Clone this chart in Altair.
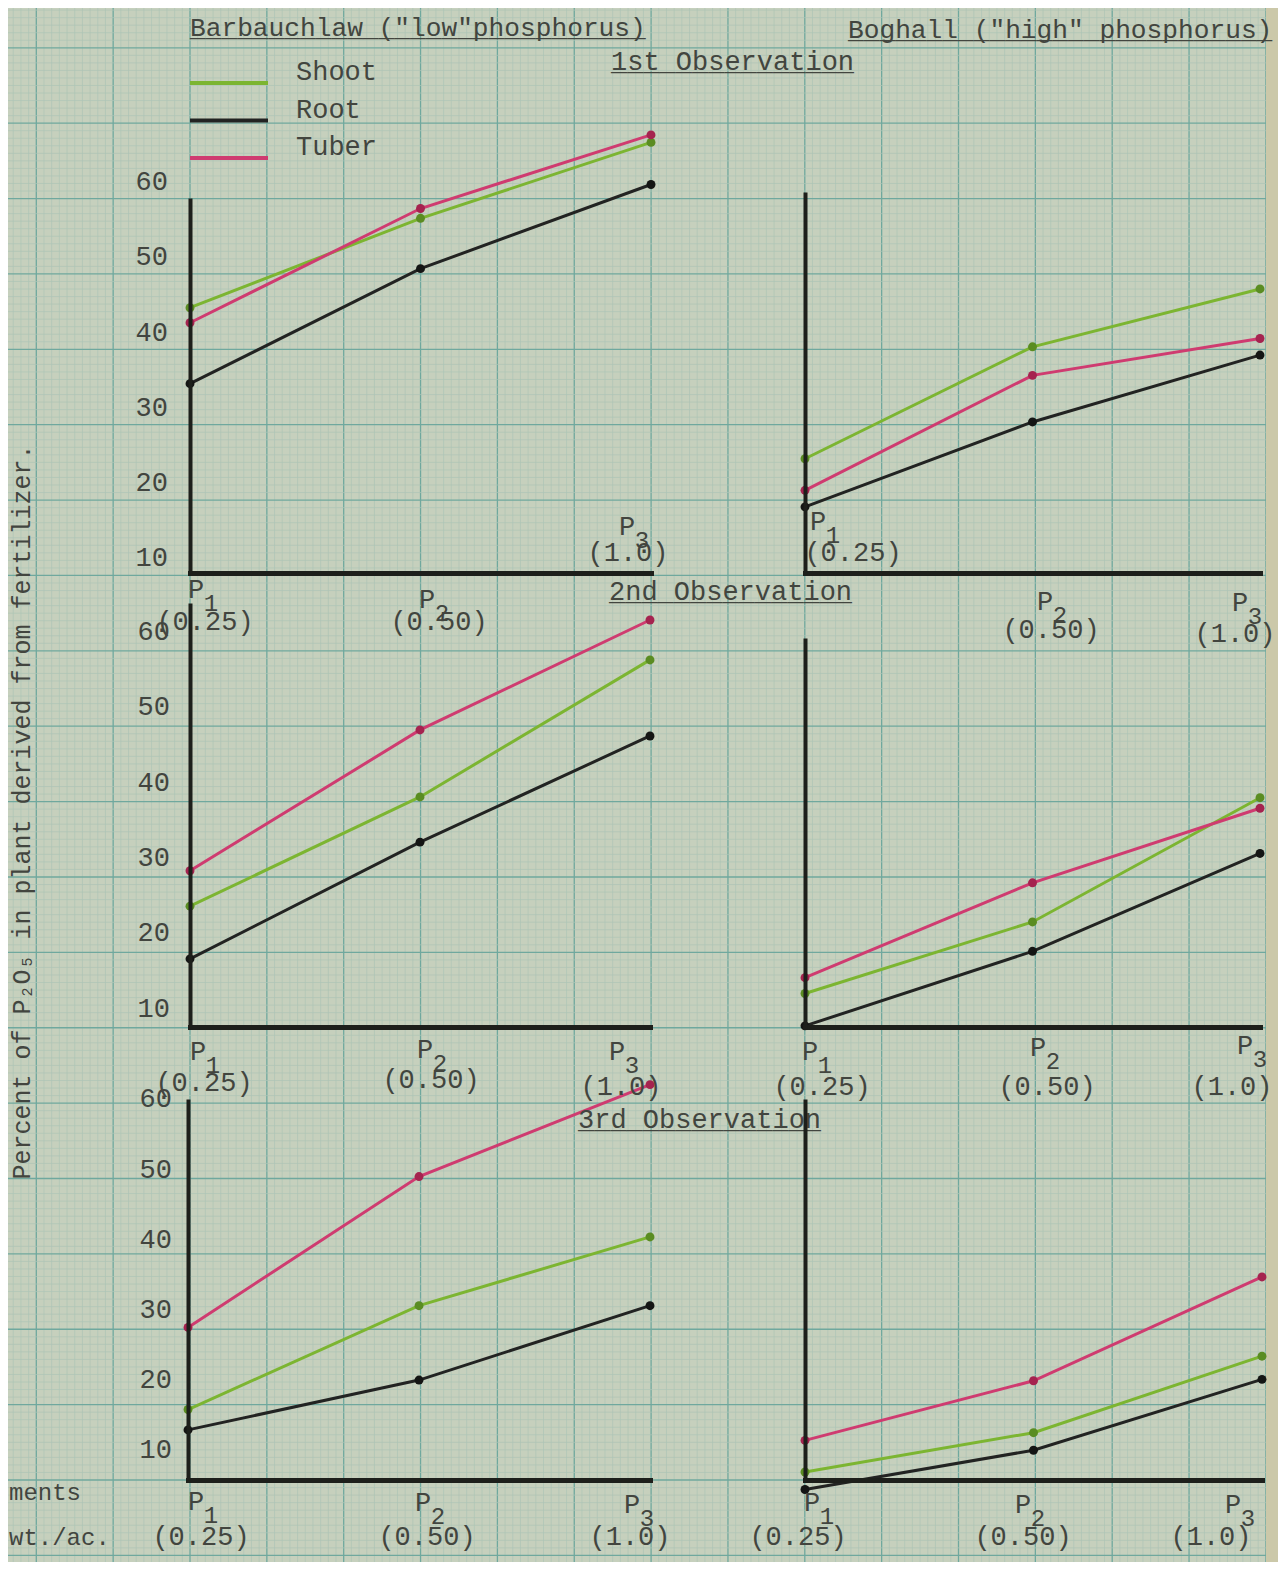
import altair as alt
import pandas as pd

# ---------------- data ----------------
levels = ["P1", "P2", "P3"]
level_digits = ["1", "2", "3"]
rates = ["(0.25)", "(0.50)", "(1.0)"]
parts = ["Shoot", "Root", "Tuber"]
site_titles = ['Barbauchlaw ("low"phosphorus)', 'Boghall ("high" phosphorus)']
observations = ["1st Observation", "2nd Observation", "3rd Observation"]
y_ticks = [10, 20, 30, 40, 50, 60]
y_title = "Percent of P\u2082O\u2085 in plant derived from fertilizer."
corner_texts = ["ments", "wt./ac."]

# Barbauchlaw (left column) / Boghall (right column), per observation
barb1_shoot = [43.3, 55.2, 65.3]
barb1_root = [33.2, 48.5, 59.7]
barb1_tuber = [41.3, 56.5, 66.3]
bog1_shoot = [23.2, 38.1, 45.8]
bog1_root = [16.8, 28.1, 37.0]
bog1_tuber = [19.0, 34.3, 39.2]

barb2_shoot = [23.6, 38.1, 56.3]
barb2_root = [16.6, 32.1, 46.2]
barb2_tuber = [28.3, 47.0, 61.6]
bog2_shoot = [12.0, 21.5, 38.0]
bog2_root = [7.7, 17.6, 30.6]
bog2_tuber = [14.1, 26.7, 36.6]

barb3_shoot = [15.8, 30.6, 40.4]
barb3_root = [12.9, 20.0, 30.6]
barb3_tuber = [27.5, 49.0, 62.1]
bog3_shoot = [6.9, 12.5, 23.4]
bog3_root = [4.4, 10.0, 20.1]
bog3_tuber = [11.4, 19.9, 34.7]

panel_series = {
    (0, 0): [barb1_shoot, barb1_root, barb1_tuber],
    (0, 1): [bog1_shoot, bog1_root, bog1_tuber],
    (1, 0): [barb2_shoot, barb2_root, barb2_tuber],
    (1, 1): [bog2_shoot, bog2_root, bog2_tuber],
    (2, 0): [barb3_shoot, barb3_root, barb3_tuber],
    (2, 1): [bog3_shoot, bog3_root, bog3_tuber],
}

# ---------------- layout / style ----------------
W, H = 1270, 1554
M = 8
FONT = "Liberation Mono"
FS = 27
TXT = "#42453f"
AX = "#1d1f1b"
PAPER = "#c6d0bd"
MINOR = "#adc4b6"
MAJOR = "#6fa89e"
line_colors = ["#7cb531", "#222322", "#cf3b70"]
dot_colors = ["#5a8c22", "#141514", "#a5234f"]


def px(v):
    return v - M


# per row: (pixel y of value 35, pixels per unit)
row_fit = [(370.1, 7.515), (820.3, 7.53), (1274.8, 7.017)]
# per panel: P1 x, P3 x, axis bottom y, axis top y
panel_geo = {
    (0, 0): (190, 651, 573, 200),
    (0, 1): (805, 1260, 573, 194),
    (1, 0): (190, 650, 1027, 605),
    (1, 1): (805, 1260, 1027, 640),
    (2, 0): (188, 650, 1480, 1101),
    (2, 1): (805, 1262, 1480, 1101),
}
tick_label_right = [168, 170, 172]
# per panel, per level: P letter (x, y), rate (x, y)
label_geo = {
    (0, 0): [(196, 590, 205, 622), (427, 600, 439, 622), (627, 527, 628, 553)],
    (0, 1): [(818, 522, 853, 553), (1045, 602, 1051, 630), (1240, 603, 1235, 634)],
    (1, 0): [(198, 1052, 204, 1083), (425, 1050, 431, 1080), (617, 1052, 621, 1087)],
    (1, 1): [(810, 1052, 822, 1087), (1038, 1048, 1047, 1087), (1245, 1046, 1232, 1087)],
    (2, 0): [(196, 1502, 201, 1537), (423, 1503, 427, 1537), (632, 1505, 630, 1537)],
    (2, 1): [(812, 1503, 798, 1537), (1023, 1505, 1023, 1537), (1233, 1505, 1211, 1537)],
}
title_geo = [(190, 28), (848, 30)]
obs_geo = [(611, 62), (609, 592), (578, 1120)]

color_scale = alt.Scale(domain=parts, range=line_colors)
fill_scale = alt.Scale(domain=parts, range=dot_colors)

layers = []

# ---------------- graph paper ----------------
vk = pd.DataFrame({"k": list(range(-23, 141))})
hk = pd.DataFrame({"j": list(range(-5, 201))})
gx = alt.Scale(domain=[0, 100], range=[px(190), px(190) + 768.5], nice=False, zero=False)
gy = alt.Scale(domain=[0, 100], range=[px(47.8), px(47.8) + 753.8], nice=False, zero=False)
for flt, col, sw in [("datum.k % 10 != 0", MINOR, 0.7), ("datum.k % 10 == 0", MAJOR, 1.3)]:
    layers.append(
        alt.Chart(vk).transform_filter(flt).mark_rule(color=col, strokeWidth=sw).encode(
            x=alt.X("k:Q", scale=gx, axis=None), y=alt.value(0), y2=alt.value(H)
        )
    )
for flt, col, sw in [("datum.j % 10 != 0", MINOR, 0.7), ("datum.j % 10 == 0", MAJOR, 1.3)]:
    layers.append(
        alt.Chart(hk).transform_filter(flt).mark_rule(color=col, strokeWidth=sw).encode(
            y=alt.Y("j:Q", scale=gy, axis=None), x=alt.value(0), x2=alt.value(px(1266))
        )
    )
layers.append(
    alt.Chart(pd.DataFrame({"a": [0]})).mark_rect(color="#cbc8a9").encode(
        x=alt.value(px(1266)), x2=alt.value(W), y=alt.value(0), y2=alt.value(H)
    )
)

# ---------------- panels ----------------
for (r, c), (x1, x3, yb, yt) in panel_geo.items():
    yc, s = row_fit[r]

    def val(y):
        return 35 + (yc - y) / s

    rows = []
    for part, vals in zip(parts, panel_series[(r, c)]):
        for lev, v in zip(levels, vals):
            rows.append({"level": lev, "part": part, "value": v})
    d = pd.DataFrame(rows)

    xs = alt.Scale(type="point", domain=levels, range=[px(x1), px(x3)], padding=0)
    ys = alt.Scale(type="linear", domain=[val(yb), val(yt)], range=[px(yb), px(yt)],
                   nice=False, zero=False)
    xax = alt.Axis(orient="bottom", offset=px(yb) - H, labels=False, ticks=False, grid=False,
                   title=None, domainColor=AX, domainWidth=5, domainCap="square", zindex=1)
    yax = alt.Axis(orient="left", offset=-px(x1), labels=False, ticks=False, grid=False,
                   title=None, domainColor=AX, domainWidth=4, domainCap="square", zindex=1)
    base = alt.Chart(d).encode(
        x=alt.X("level:N", scale=xs, axis=xax),
        y=alt.Y("value:Q", scale=ys, axis=yax),
    )
    lines = base.mark_line(strokeWidth=3).encode(
        color=alt.Color("part:N", scale=color_scale, legend=None)
    )
    dots = base.mark_circle(size=80, opacity=1).encode(
        fill=alt.Fill("part:N", scale=fill_scale, legend=None)
    )
    layers.append(alt.layer(lines, dots))
    if c == 0:
        tick_df = pd.DataFrame({"tick": y_ticks})
        layers.append(
            alt.Chart(tick_df).mark_text(font=FONT, fontSize=FS, color=TXT, align="right",
                                         baseline="middle").encode(
                x=alt.value(px(tick_label_right[r])),
                y=alt.Y("tick:Q", scale=ys, axis=None),
                text=alt.Text("tick:Q"),
            )
        )

# ---------------- x level labels ----------------
p_rows, d_rows, r_rows = [], [], []
for key, geo in label_geo.items():
    for i, (pxx, pyy, rxx, ryy) in enumerate(geo):
        p_rows.append({"t": levels[i][0], "x": px(pxx), "y": px(pyy)})
        d_rows.append({"t": level_digits[i], "x": px(pxx) + 15, "y": px(pyy) + 14})
        r_rows.append({"t": rates[i], "x": px(rxx), "y": px(ryy)})
for rows_, fs in [(p_rows, FS), (d_rows, 24), (r_rows, FS)]:
    layers.append(
        alt.Chart(pd.DataFrame(rows_)).mark_text(font=FONT, fontSize=fs, color=TXT,
                                                  align="center", baseline="middle").encode(
            x=alt.X("x:Q", scale=None, axis=None),
            y=alt.Y("y:Q", scale=None, axis=None),
            text="t:N",
        )
    )

# ---------------- titles (typed, underlined) ----------------
t_rows = []
for t, (tx, ty) in zip(site_titles, title_geo):
    t_rows.append({"t": t, "u": "_" * len(t), "x": px(tx), "y": px(ty), "fs": 26.2})
for t, (tx, ty) in zip(observations, obs_geo):
    t_rows.append({"t": t, "u": "_" * len(t), "x": px(tx), "y": px(ty), "fs": FS})
tdf = pd.DataFrame(t_rows)
for fld in ["t", "u"]:
    for fs_val in sorted(set(tdf["fs"])):
        layers.append(
            alt.Chart(tdf[tdf["fs"] == fs_val]).mark_text(
                font=FONT, fontSize=fs_val, color=TXT, align="left", baseline="middle"
            ).encode(
                x=alt.X("x:Q", scale=None, axis=None),
                y=alt.Y("y:Q", scale=None, axis=None),
                text=f"{fld}:N",
            )
        )

# ---------------- legend (drawn in the top-left panel area) ----------------
leg_df = pd.DataFrame({"part": parts})
leg_y = alt.Scale(type="point", domain=parts, range=[px(83), px(158)], padding=0)
layers.append(
    alt.Chart(leg_df).mark_rule(strokeWidth=4).encode(
        y=alt.Y("part:N", scale=leg_y, axis=None),
        x=alt.value(px(190)), x2=alt.value(px(268)),
        color=alt.Color("part:N", scale=color_scale, legend=None),
    )
)
layers.append(
    alt.Chart(leg_df).mark_text(font=FONT, fontSize=FS, color=TXT, align="left",
                                baseline="middle", dy=-11).encode(
        y=alt.Y("part:N", scale=leg_y, axis=None),
        x=alt.value(px(296)),
        text="part:N",
    )
)

# ---------------- y title and corner texts ----------------
layers.append(
    alt.Chart(pd.DataFrame({"t": [y_title]})).mark_text(
        font=FONT, fontSize=25, color=TXT, angle=270, align="center", baseline="middle"
    ).encode(x=alt.value(px(22)), y=alt.value(px(812)), text="t:N")
)
corner_df = pd.DataFrame({"t": corner_texts, "y": [px(1493), px(1538)]})
layers.append(
    alt.Chart(corner_df).mark_text(font=FONT, fontSize=24, color=TXT, align="left",
                                   baseline="middle").encode(
        x=alt.value(1),
        y=alt.Y("y:Q", scale=None, axis=None),
        text="t:N",
    )
)

chart = (
    alt.layer(*layers)
    .resolve_scale(x="independent", y="independent")
    .properties(width=W, height=H, padding=0, background=PAPER,
                autosize=alt.AutoSizeParams(type="none"))
    .configure_view(stroke=None)
)

chart.save("out.html", embed_options={"renderer": "svg", "actions": False})
